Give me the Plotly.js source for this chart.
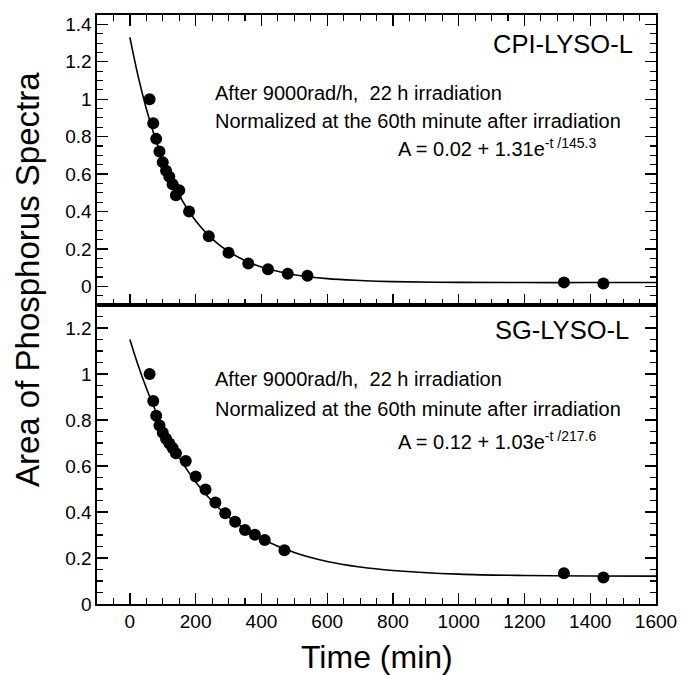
<!DOCTYPE html>
<html>
<head>
<meta charset="utf-8">
<script src="https://cdn.plot.ly/plotly-3.0.1.min.js"></script>
<style>html,body{margin:0;padding:0;background:#fff;}</style>
</head>
<body>
<div id="chart" style="width:697px;height:675px;"></div>
<script>
// ---- Data ----
// Top panel: CPI-LYSO-L
const cpiTime = [60, 71, 80, 90, 100, 110, 120, 130, 140, 150, 180, 240, 300, 360, 420, 480, 540, 1320, 1440];
const cpiArea = [1.00, 0.872, 0.788, 0.72, 0.663, 0.618, 0.585, 0.545, 0.487, 0.514, 0.40, 0.267, 0.179, 0.122, 0.091, 0.067, 0.057, 0.021, 0.015];
// Bottom panel: SG-LYSO-L
const sgTime = [60, 71, 80, 90, 100, 110, 120, 130, 140, 170, 200, 230, 260, 290, 320, 350, 380, 410, 470, 1320, 1440];
const sgArea = [1.00, 0.883, 0.819, 0.776, 0.745, 0.719, 0.698, 0.678, 0.656, 0.622, 0.554, 0.498, 0.441, 0.395, 0.358, 0.322, 0.301, 0.278, 0.234, 0.134, 0.115];
// Fit curves
const fitTime = [0, 25, 50, 75, 100, 125, 150, 175, 200, 250, 300, 350, 400, 500, 600, 700, 800, 1000, 1200, 1400, 1600];
const cpiFit = [1.330, 1.123, 0.949, 0.802, 0.678, 0.574, 0.487, 0.413, 0.351, 0.254, 0.186, 0.138, 0.103, 0.062, 0.041, 0.031, 0.025, 0.021, 0.020, 0.020, 0.020];
const sgFit = [1.150, 1.038, 0.939, 0.850, 0.770, 0.700, 0.637, 0.581, 0.531, 0.447, 0.379, 0.326, 0.284, 0.224, 0.185, 0.161, 0.146, 0.130, 0.124, 0.122, 0.121];
// Labels
const panelNames = ["CPI-LYSO-L", "SG-LYSO-L"];
const noteLine1 = "After 9000rad/h,  22 h irradiation";
const noteLine2 = "Normalized at the 60th minute after irradiation";
const fitLabels = ["A = 0.02 + 1.31e<sup>-t /145.3</sup>", "A = 0.12 + 1.03e<sup>-t /217.6</sup>"];
const xTitle = "Time (min)";
const yTitle = "Area of Phosphorus Spectra";

const FONT = "Liberation Sans, Arial, sans-serif";
const lineStyle = {color: "#000", width: 1.6};
const markerStyle = {color: "#000", size: 12, symbol: "circle"};

const traces = [
  {x: fitTime, y: cpiFit, xaxis: "x2", yaxis: "y2", mode: "lines", line: Object.assign({shape: "spline"}, lineStyle), hoverinfo: "skip"},
  {x: cpiTime, y: cpiArea, xaxis: "x2", yaxis: "y2", mode: "markers", marker: markerStyle},
  {x: fitTime, y: sgFit, xaxis: "x", yaxis: "y", mode: "lines", line: Object.assign({shape: "spline"}, lineStyle), hoverinfo: "skip"},
  {x: sgTime, y: sgArea, xaxis: "x", yaxis: "y", mode: "markers", marker: markerStyle}
];

const split = 0.5076;
function xAx(extra) {
  return Object.assign({
    range: [-100, 1600], dtick: 200, tick0: 0, ticks: "inside", ticklen: 11, tickwidth: 1.3, tickcolor: "#000",
    minor: {dtick: 50, tick0: 0, ticks: "inside", ticklen: 6, tickwidth: 1.1, tickcolor: "#000"},
    showline: true, linecolor: "#000", linewidth: 1.6, showgrid: false, zeroline: false,
    tickfont: {family: FONT, size: 19, color: "#000"}, fixedrange: true
  }, extra);
}
function yAx(extra) {
  return Object.assign({
    dtick: 0.2, tick0: 0, ticks: "inside", ticklen: 11, tickwidth: 1.3, tickcolor: "#000",
    minor: {dtick: 0.05, tick0: 0, ticks: "inside", ticklen: 6, tickwidth: 1.1, tickcolor: "#000"},
    showline: true, linecolor: "#000", linewidth: 1.6, showgrid: false, zeroline: false, mirror: "ticks",
    tickfont: {family: FONT, size: 19, color: "#000"}, fixedrange: true
  }, extra);
}

const ann = [];
function txt(x, y, text, size, xanchor, extra) {
  ann.push(Object.assign({xref: "paper", yref: "paper", x: x, y: y, text: text, showarrow: false,
    xanchor: xanchor, yanchor: "middle", font: {family: FONT, size: size, color: "#000"}}, extra || {}));
}
// top panel
txt(0.9624, 0.9508, panelNames[0], 25.5, "right");
txt(0.2075, 0.8676, noteLine1, 20, "left");
txt(0.2075, 0.8200, noteLine2, 20, "left");
txt(0.8963, 0.7742, fitLabels[0], 20, "right");
// bottom panel
txt(0.9553, 0.4652, panelNames[1], 25.5, "right");
txt(0.2075, 0.3820, noteLine1, 20, "left");
txt(0.2075, 0.3311, noteLine2, 20, "left");
txt(0.8963, 0.2784, fitLabels[1], 20, "right");
// axis titles
txt(-0.1234, 0.5501, yTitle, 33, "center", {textangle: -90});
txt(0.5, -0.0900, xTitle, 32, "center");

const layout = {
  width: 697, height: 675,
  margin: {l: 97, r: 41, t: 15, b: 71, pad: 0},
  paper_bgcolor: "#fff", plot_bgcolor: "#fff",
  showlegend: false,
  font: {family: FONT, color: "#000"},
  xaxis: xAx({anchor: "y", domain: [0, 1], mirror: true, ticklabelstandoff: 0}),
  yaxis: yAx({anchor: "x", domain: [0, split], range: [0, 1.3]}),
  xaxis2: xAx({anchor: "y2", domain: [0, 1], mirror: "ticks", showticklabels: false, matches: "x"}),
  yaxis2: yAx({anchor: "x2", domain: [split, 1], range: [-0.1, 1.45]}),
  annotations: ann
};

Plotly.newPlot("chart", traces, layout, {staticPlot: true, displayModeBar: false});
</script>
</body>
</html>
